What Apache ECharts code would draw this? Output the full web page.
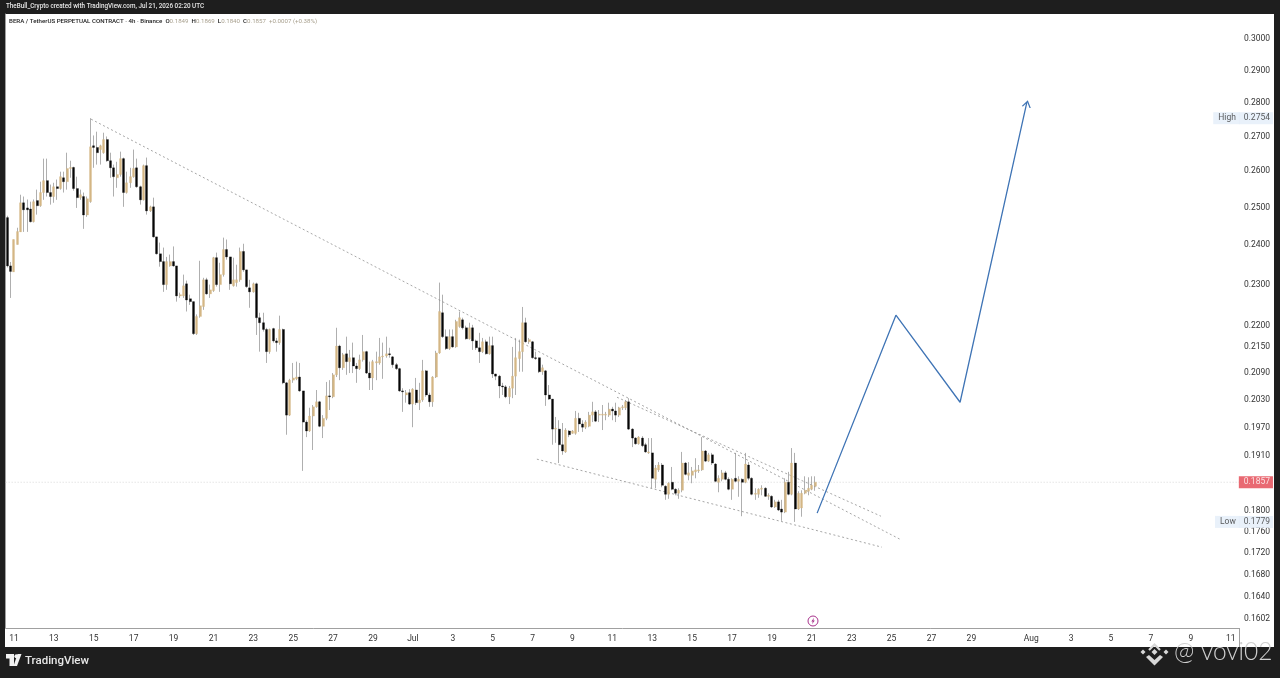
<!DOCTYPE html>
<html><head><meta charset="utf-8">
<style>html,body{margin:0;padding:0;background:#1e1e1e}#c{width:1280px;height:678px}</style>
<script src="https://cdn.jsdelivr.net/npm/echarts@6/dist/echarts.min.js"></script>
</head><body><div id="c"></div>
<script>
const opens=[.2473,.2347,.2332,.2402,.2435,.2513,.2499,.2496,.2462,.2519,.2505,.2541,.2574,.2541,.2530,.2557,.2552,.2582,.2571,.2608,.2611,.2552,.2527,.2530,.2480,.2516,.2673,.2668,.2662,.2653,.2691,.2630,.2610,.2582,.2591,.2636,.2541,.2568,.2585,.2610,.2557,.2521,.2616,.2491,.2502,.2422,.2378,.2358,.2300,.2347,.2358,.2347,.2272,.2272,.2302,.2265,.2258,.2181,.2222,.2246,.2312,.2277,.2285,.2368,.2300,.2325,.2389,.2370,.2297,.2305,.2312,.2384,.2337,.2292,.2282,.2302,.2219,.2207,.2191,.2139,.2193,.2164,.2160,.2191,.2068,.1997,.2074,.2077,.2081,.2050,.1982,.1963,.1995,.2015,.2026,.1973,.1990,.2039,.2037,.2086,.2152,.2102,.2134,.2116,.2125,.2106,.2100,.2120,.2139,.2090,.2079,.2113,.2113,.2127,.2129,.2134,.2127,.2109,.2100,.2050,.2041,.2046,.2021,.2052,.2024,.2030,.2095,.2041,.2026,.2081,.2136,.2231,.2174,.2146,.2174,.2150,.2198,.2214,.2195,.2169,.2195,.2164,.2148,.2139,.2162,.2134,.2153,.2088,.2083,.2061,.2059,.2037,.2056,.2083,.2123,.2139,.2207,.2162,.2162,.2125,.2125,.2093,.2095,.2041,.2032,.1967,.1967,.1934,.1919,.1963,.1958,.1958,.1990,.1978,.1971,.1973,.1997,.2004,.1997,.1997,.1997,.1997,.2010,.2006,.1997,.2013,.2013,.2026,.1967,.1948,.1936,.1948,.1934,.1917,.1917,.1863,.1882,.1892,.1849,.1833,.1857,.1843,.1835,.1841,.1896,.1871,.1871,.1878,.1880,.1882,.1921,.1900,.1913,.1894,.1857,.1863,.1876,.1863,.1843,.1865,.1859,.1863,.1857,.1892,.1865,.1833,.1833,.1843,.1845,.1829,.1829,.1808,.1818,.1804,.1798,.1857,.1833,.1896,.1804,.1806,.1835,.1839,.1843,.1849];
const highs=[.2478,.2357,.2415,.2446,.2535,.2530,.2522,.2516,.2522,.2549,.2571,.2636,.2636,.2563,.2568,.2577,.2599,.2599,.2653,.2630,.2613,.2585,.2549,.2541,.2530,.2754,.2703,.2714,.2676,.2711,.2700,.2653,.2619,.2627,.2656,.2639,.2599,.2610,.2662,.2636,.2560,.2619,.2639,.2505,.2527,.2422,.2407,.2394,.2370,.2376,.2397,.2347,.2280,.2325,.2310,.2275,.2258,.2227,.2360,.2317,.2317,.2300,.2370,.2381,.2355,.2420,.2415,.2370,.2368,.2350,.2394,.2404,.2337,.2312,.2305,.2305,.2231,.2231,.2195,.2193,.2195,.2171,.2224,.2193,.2070,.2077,.2113,.2116,.2113,.2050,.1986,.2013,.2019,.2052,.2028,.1997,.2070,.2074,.2090,.2195,.2155,.2136,.2174,.2143,.2160,.2113,.2132,.2178,.2141,.2116,.2120,.2139,.2171,.2160,.2174,.2148,.2129,.2113,.2102,.2056,.2052,.2054,.2056,.2079,.2068,.2120,.2097,.2046,.2083,.2141,.2305,.2275,.2191,.2191,.2191,.2214,.2234,.2219,.2200,.2207,.2202,.2167,.2183,.2171,.2167,.2174,.2174,.2088,.2086,.2068,.2063,.2061,.2150,.2171,.2167,.2245,.2219,.2171,.2164,.2139,.2125,.2109,.2097,.2063,.2032,.1993,.1986,.1980,.1969,.1965,.1965,.2006,.2002,.1986,.1986,.2004,.2026,.2008,.2008,.2019,.2004,.2024,.2015,.2024,.2015,.2019,.2030,.2034,.1969,.1950,.1952,.1952,.1938,.1948,.1948,.1892,.1898,.1896,.1851,.1857,.1888,.1845,.1845,.1919,.1898,.1898,.1888,.1906,.1892,.1950,.1923,.1917,.1917,.1896,.1871,.1882,.1880,.1867,.1865,.1917,.1869,.1865,.1917,.1898,.1867,.1845,.1845,.1851,.1847,.1835,.1831,.1822,.1822,.1822,.1865,.1878,.1927,.1917,.1839,.1841,.1869,.1867,.1869,.1869];
const lows=[.2343,.2267,.2332,.2402,.2435,.2435,.2435,.2460,.2460,.2481,.2502,.2521,.2530,.2508,.2513,.2521,.2549,.2541,.2549,.2582,.2546,.2499,.2521,.2443,.2475,.2513,.2610,.2619,.2619,.2650,.2627,.2582,.2530,.2554,.2585,.2502,.2538,.2554,.2582,.2554,.2508,.2519,.2481,.2488,.2420,.2376,.2345,.2282,.2287,.2345,.2345,.2258,.2267,.2267,.2234,.2250,.2178,.2178,.2219,.2238,.2275,.2267,.2282,.2295,.2282,.2320,.2363,.2287,.2295,.2295,.2307,.2332,.2292,.2243,.2280,.2178,.2139,.2186,.2113,.2134,.2160,.2139,.2155,.2065,.1955,.1995,.2068,.2074,.2048,.1880,.1950,.1961,.1923,.2013,.1971,.1948,.1986,.2008,.2034,.2081,.2074,.2097,.2086,.2090,.2090,.2068,.2097,.2116,.2088,.2052,.2052,.2074,.2109,.2077,.2125,.2125,.2102,.2097,.2048,.2004,.2024,.2019,.1971,.2019,.2008,.2026,.2037,.2015,.2015,.2079,.2134,.2171,.2143,.2143,.2148,.2148,.2195,.2191,.2167,.2167,.2143,.2143,.2113,.2136,.2132,.2132,.2079,.2074,.2034,.2041,.2034,.2021,.2034,.2041,.2093,.2093,.2160,.2157,.2123,.2120,.2090,.2086,.2017,.2030,.1934,.1938,.1896,.1913,.1917,.1950,.1957,.1955,.1961,.1961,.1967,.1971,.1982,.1982,.1982,.1965,.1986,.1993,.1986,.1982,.1993,.2008,.2008,.1965,.1929,.1934,.1934,.1929,.1917,.1915,.1845,.1845,.1878,.1847,.1822,.1824,.1841,.1831,.1824,.1837,.1871,.1861,.1855,.1865,.1876,.1880,.1898,.1898,.1892,.1857,.1837,.1859,.1861,.1841,.1822,.1857,.1828,.1790,.1855,.1861,.1831,.1822,.1826,.1831,.1828,.1822,.1806,.1806,.1800,.1781,.1796,.1831,.1831,.1779,.1802,.1789,.1833,.1831,.1841,.1840];
const closes=[.2347,.2333,.2415,.2436,.2513,.2494,.2494,.2462,.2516,.2505,.2541,.2574,.2541,.2530,.2557,.2552,.2585,.2571,.2608,.2611,.2552,.2527,.2535,.2480,.2524,.2670,.2668,.2653,.2673,.2691,.2630,.2610,.2585,.2591,.2636,.2541,.2568,.2585,.2608,.2557,.2521,.2616,.2491,.2502,.2422,.2378,.2358,.2300,.2358,.2358,.2347,.2272,.2275,.2297,.2262,.2258,.2181,.2222,.2248,.2312,.2277,.2287,.2368,.2300,.2325,.2389,.2370,.2302,.2312,.2312,.2384,.2337,.2295,.2282,.2302,.2219,.2207,.2191,.2139,.2191,.2164,.2160,.2191,.2068,.1997,.2074,.2079,.2081,.2050,.1982,.1963,.1995,.2015,.2026,.1973,.1990,.2039,.2037,.2086,.2152,.2102,.2132,.2116,.2125,.2106,.2100,.2120,.2139,.2090,.2079,.2116,.2116,.2127,.2129,.2134,.2132,.2109,.2100,.2050,.2048,.2046,.2021,.2054,.2024,.2030,.2095,.2041,.2026,.2081,.2136,.2234,.2174,.2146,.2174,.2150,.2210,.2219,.2195,.2169,.2195,.2164,.2148,.2139,.2162,.2134,.2153,.2088,.2083,.2061,.2059,.2037,.2056,.2083,.2125,.2139,.2207,.2162,.2167,.2125,.2123,.2093,.2102,.2041,.2032,.1967,.1969,.1934,.1921,.1965,.1955,.1963,.1990,.1978,.1971,.1982,.1997,.2004,.1984,.1999,.1999,.1999,.2010,.2006,.1997,.2013,.2015,.2026,.1967,.1948,.1936,.1950,.1932,.1919,.1919,.1865,.1886,.1892,.1851,.1833,.1855,.1843,.1835,.1841,.1896,.1873,.1876,.1880,.1882,.1882,.1921,.1900,.1913,.1896,.1859,.1865,.1876,.1863,.1843,.1863,.1859,.1863,.1857,.1894,.1865,.1833,.1835,.1843,.1845,.1829,.1831,.1808,.1818,.1802,.1798,.1857,.1833,.1896,.1804,.1835,.1835,.1841,.1845,.1851,.1857];
const priceTicks=[.3,.29,.28,.27,.26,.25,.24,.23,.22,.215,.209,.203,.197,.191,.18,.176,.172,.168,.164,.1602];
const xTickDates=['06-11','06-13','06-15','06-17','06-19','06-21','06-23','06-25','06-27','06-29','07-01','07-03','07-05','07-07','07-09','07-11','07-13','07-15','07-17','07-19','07-21','07-23','07-25','07-27','07-29','08-01','08-03','08-05','08-07','08-09','08-11'];
const xTickLabels=['11','13','15','17','19','21','23','25','27','29','Jul','3','5','7','9','11','13','15','17','19','21','23','25','27','29','Aug','3','5','7','9','11'];
// overlay drawings: x is measured in 4h bars from the left edge of the plot
const trendA=[[25.7,.2751],[269.0,.1746]];
const trendB=[[183.9,.2036],[263.3,.1790]];
const trendC=[[159.8,.1904],[263.6,.1731]];
const forecast=[[244.1,.1796],[267.8,.2225],[287.1,.2025],[307.2,.2802]];
const lastPrice=.1857, highPrice=.2754, lowPrice=.1779;
const barCount=371;
const categories=[];
{const pad=n=>String(n).padStart(2,'0');const t0=Date.UTC(2026,5,10,16);
 for(let i=0;i<barCount;i++){const d=new Date(t0+i*4*3600e3);categories.push(pad(d.getUTCMonth()+1)+'-'+pad(d.getUTCDate())+' '+pad(d.getUTCHours()));}}
const tickMap={};xTickDates.forEach((d,i)=>tickMap[d+' 00']=xTickLabels[i]);

const UP='#d4b684',DOWN='#050505',WICK='#8d8d8d',DARK='#1e1e1e',FONT='Roboto';
const wickData=opens.map((o,i)=>[o,closes[i],lows[i],highs[i]]);
const bodyData=opens.map((o,i)=>[o,closes[i],Math.min(o,closes[i]),Math.max(o,closes[i])]);
const dotted=d=>({type:'line',xAxisIndex:1,yAxisIndex:0,data:d,showSymbol:false,silent:true,z:3,lineStyle:{color:'#8f8f8f',width:.8,type:[2,2.5]}});
const badge=(v,txt,bg,col)=>({value:[barCount-1,v],label:{show:true,position:'right',distance:1,formatter:txt,color:col,backgroundColor:bg,padding:[2,3,1,5],fontFamily:FONT,fontSize:8.5}});
const hiLo=(v,txt)=>({value:[barCount-1,v],label:{show:true,position:'left',distance:0,offset:[3,0],formatter:txt,color:'#333',backgroundColor:'#e3edf9',padding:[2,4,1,5],fontFamily:FONT,fontSize:8.5}});

const chart=echarts.init(document.getElementById('c'),null,{renderer:'canvas',width:1280,height:678});
chart.setOption({
 animation:false,backgroundColor:DARK,
 grid:{left:5.65,top:14,width:1233.35,height:614,containLabel:false},
 xAxis:[{type:'category',data:categories,boundaryGap:true,
   axisLine:{lineStyle:{color:'#a0a0a0',width:1}},axisTick:{show:false},splitLine:{show:false},
   axisLabel:{interval:(i,v)=>v in tickMap,formatter:v=>tickMap[v]||'',color:'#333',fontFamily:FONT,fontSize:8.5,margin:6,hideOverlap:false,showMinLabel:true,showMaxLabel:true}},
  {type:'value',min:0,max:barCount,show:false}],
 yAxis:[{type:'log',logBase:10,min:.1586,max:.30827,position:'right',scale:true,
   axisLine:{show:true,lineStyle:{color:'#a0a0a0',width:1}},axisTick:{show:false},splitLine:{show:false},
   axisLabel:{customValues:priceTicks,formatter:v=>(+v).toFixed(4),color:'#333',fontFamily:FONT,fontSize:8.5,margin:5,padding:[4,0,0,0],showMinLabel:true,showMaxLabel:true}}],
 graphic:[
  {type:'rect',z:-100,silent:true,shape:{x:5,y:14,width:1269,height:633},style:{fill:'#fff'}},
  {type:'line',z:50,silent:true,shape:{x1:1239.5,y1:628,x2:1239.5,y2:647},style:{stroke:'#a0a0a0',lineWidth:1}},
  {type:'text',z:50,silent:true,x:6,y:3.5,style:{text:'TheBull_Crypto created with TradingView.com, Jul 21, 2026 02:20 UTC',fill:'#e6e6e6',font:'500 6.3px Roboto'}},
  {type:'text',z:50,silent:true,x:9,y:18.5,style:{text:'{a|BERA / TetherUS PERPETUAL CONTRACT · 4h · Binance  O}{b|0.1849}{a|  H}{b|0.1869}{a|  L}{b|0.1840}{a|  C}{b|0.1857}{b|  +0.0007 (+0.38%)}',
     rich:{a:{fill:'#222',font:'500 6.15px Roboto'},b:{fill:'#a9a18f',font:'400 6.15px Roboto'}}}},
  // TradingView logo and name
  {type:'polygon',z:50,silent:true,shape:{points:[[6,654],[14,654],[14,666],[9.5,666],[9.5,658.5],[6,658.5]]},style:{fill:'#f2f2f2'}},
  {type:'circle',z:50,silent:true,shape:{cx:16.4,cy:656.2,r:2},style:{fill:'#f2f2f2'}},
  {type:'polygon',z:50,silent:true,shape:{points:[[17.5,654],[21.5,654],[17,666],[13.5,666]]},style:{fill:'#f2f2f2'}},
  {type:'text',z:50,silent:true,x:25,y:655,style:{text:'TradingView',fill:'#e8e8e8',font:'500 11.5px Roboto'}},
  // watermark
  {type:'polygon',z:50,silent:true,shape:{points:[[1143,649.5],[1145.5,652],[1143,654.5],[1140.5,652]]},style:{fill:'#d8d8d8'}},
  {type:'polygon',z:50,silent:true,shape:{points:[[1166,649.5],[1168.5,652],[1166,654.5],[1163.5,652]]},style:{fill:'#d8d8d8'}},
  {type:'polygon',z:50,silent:true,shape:{points:[[1154.5,649],[1157.5,652],[1154.5,655],[1151.5,652]]},style:{fill:'#d8d8d8'}},
  {type:'polyline',z:50,silent:true,shape:{points:[[1149,650],[1154.5,644.5],[1160,650]]},style:{stroke:'#d8d8d8',lineWidth:2.2,fill:'none'}},
  {type:'polygon',z:50,silent:true,shape:{points:[[1146,657],[1149,655],[1154.5,660],[1160,655],[1163,657],[1154.5,665.5]]},style:{fill:'#d8d8d8'}},
  {type:'text',z:50,silent:true,x:1174,y:640,style:{text:'@ vovi02',fill:'#cfcfcf',font:'300 24.5px Lato'}},
  // event marker
  {type:'circle',z:50,silent:true,shape:{cx:813,cy:621,r:5},style:{fill:'#fff',stroke:'#a8328c',lineWidth:1}},
  {type:'polygon',z:50,silent:true,shape:{points:[[814,617.8],[811.3,621.4],[812.8,621.4],[812,624.2],[814.8,620.5],[813.3,620.5]]},style:{fill:'#a8328c'}}
 ],
 series:[
  {type:'line',xAxisIndex:1,yAxisIndex:0,data:[[0,lastPrice],[barCount,lastPrice]],showSymbol:false,silent:true,z:2,lineStyle:{color:'#cfcfcf',width:.8,type:[1,2]}},
  {type:'candlestick',name:'wick',barWidth:1,data:wickData,z:4,silent:true,clip:true,
   itemStyle:{color:WICK,color0:WICK,borderColor:WICK,borderColor0:WICK,borderWidth:.7}},
  {type:'candlestick',name:'BERAUSDT.P',barWidth:2.5,data:bodyData,z:5,silent:true,clip:true,
   itemStyle:{color:UP,color0:DOWN,borderColor:UP,borderColor0:DOWN,borderWidth:.3}},
  dotted(trendA),dotted(trendB),dotted(trendC),
  {type:'line',xAxisIndex:1,yAxisIndex:0,silent:true,z:6,showSymbol:true,showAllSymbol:true,
   lineStyle:{color:'#3f74b5',width:1.3},
   data:forecast.map((p,i)=>i<forecast.length-1?{value:p,symbol:'none'}:{value:p,symbol:'path://M0 10 L5 0 L10 10',symbolSize:[8,6],symbolRotate:-12.6,symbolOffset:[0,2],itemStyle:{color:'transparent',borderColor:'#3f74b5',borderWidth:1.2}})},
  {type:'scatter',silent:true,clip:false,z:10,symbolSize:1,itemStyle:{color:'transparent'},
   data:[badge(lastPrice,'0.1857','#e4434f','#fff'),badge(highPrice,'0.2754','#e3edf9','#333'),badge(lowPrice,'0.1779','#e3edf9','#333'),hiLo(highPrice,'High'),hiLo(lowPrice,'Low')]}
 ]
});
</script></body></html>
